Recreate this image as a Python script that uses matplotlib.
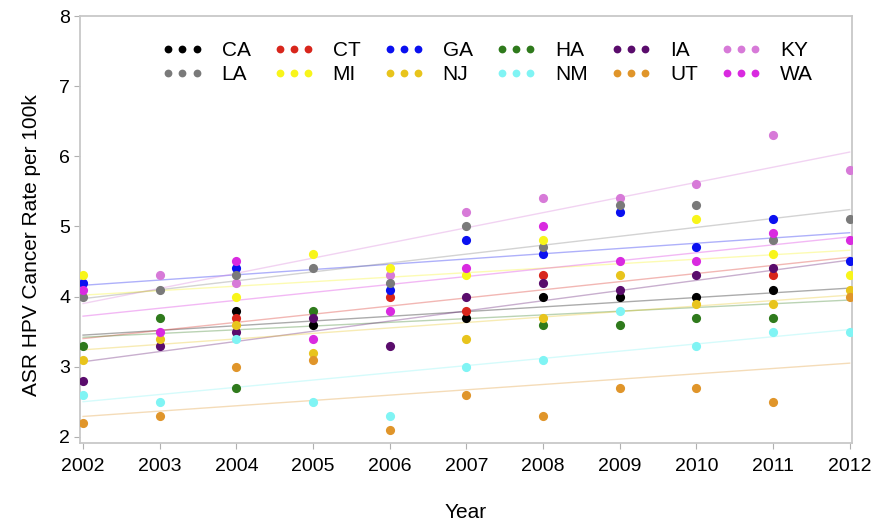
"""Age-standardised HPV cancer rates by state, 2002-2012, with linear trend lines."""
import numpy as np
import matplotlib
matplotlib.use("Agg")
import matplotlib.pyplot as plt
from matplotlib.lines import Line2D

nan = np.nan
years = [2002, 2003, 2004, 2005, 2006, 2007, 2008, 2009, 2010, 2011, 2012]
states = ["CA", "CT", "GA", "HA", "IA", "KY", "LA", "MI", "NJ", "NM", "UT", "WA"]
colors = ["#000000", "#d8261c", "#0a10f0", "#2f7a1c", "#5a0c6c", "#d77ad8",
          "#7a7a7a", "#f8f51a", "#e8c41c", "#80f4f4", "#e0952a", "#d92ae0"]

# rates per 100k (nan = no visible point)
rates = {
    "CA": [nan, nan, 3.8, 3.6, nan, 3.7, 4.0, 4.0, 4.0, 4.1, nan],
    "CT": [nan, nan, 3.7, nan, 4.0, 3.8, 4.3, nan, nan, 4.3, nan],
    "GA": [4.2, nan, 4.4, nan, 4.1, 4.8, 4.6, 5.2, 4.7, 5.1, 4.5],
    "HA": [3.3, 3.7, 2.7, 3.8, nan, nan, 3.6, 3.6, 3.7, 3.7, nan],
    "IA": [2.8, 3.3, 3.5, 3.7, 3.3, 4.0, 4.2, 4.1, 4.3, 4.4, nan],
    "KY": [nan, 4.3, 4.2, nan, 4.3, 5.2, 5.4, 5.4, 5.6, 6.3, 5.8],
    "LA": [4.0, 4.1, 4.3, 4.4, 4.2, 5.0, 4.7, 5.3, 5.3, 4.8, 5.1],
    "MI": [4.3, nan, 4.0, 4.6, 4.4, 4.3, 4.8, nan, 5.1, 4.6, 4.3],
    "NJ": [3.1, 3.4, 3.6, 3.2, nan, 3.4, 3.7, 4.3, 3.9, 3.9, 4.1],
    "NM": [2.6, 2.5, 3.4, 2.5, 2.3, 3.0, 3.1, 3.8, 3.3, 3.5, 3.5],
    "UT": [2.2, 2.3, 3.0, 3.1, 2.1, 2.6, 2.3, 2.7, 2.7, 2.5, 4.0],
    "WA": [4.1, 3.5, 4.5, 3.4, 3.8, 4.4, 5.0, 4.5, 4.5, 4.9, 4.8],
}

# fitted trend line values at 2002 and 2012
fit_2002 = [3.45, 3.40, 4.16, 3.42, 3.07, 3.90, 3.97, 4.02, 3.24, 2.50, 2.29, 3.72]
fit_2012 = [4.12, 4.56, 4.91, 3.95, 4.52, 6.06, 5.24, 4.66, 4.02, 3.53, 3.05, 4.85]

plt.rcParams["font.family"] = ["Liberation Sans", "DejaVu Sans"]

fig = plt.figure(figsize=(8.76, 5.25), dpi=100)
ax = fig.add_axes([0.0913, 0.156, 0.8813, 0.8135])

for i, st in enumerate(states):
    ax.plot([years[0], years[-1]], [fit_2002[i], fit_2012[i]], color=colors[i],
            lw=1.0, alpha=0.33, zorder=2)
for i, st in enumerate(states):
    ax.plot(years, rates[st], ls="none", marker="o", ms=6.6, mec="none",
            color=colors[i], zorder=3)

ax.set_xlim(2001.96, 2012.03)
ax.set_ylim(1.91, 8.0)
ax.set_xticks(years)
ax.set_yticks([2, 3, 4, 5, 6, 7, 8])
ax.tick_params(labelsize=14, length=4, color="#b0b0b0")
ax.tick_params(axis="x", pad=7)
ax.tick_params(axis="y", pad=3)
for sp in ax.spines.values():
    sp.set_color("#c8c8c8")
    sp.set_linewidth(1.3)
ax.set_xlabel("Year", fontsize=15, labelpad=20)
ax.set_ylabel("ASR HPV Cancer Rate per 100k", fontsize=15)
ax.yaxis.set_label_coords(-0.05, 0.464)

# legend laid out row-wise: CA..KY on top, LA..WA below
order = [0, 6, 1, 7, 2, 8, 3, 9, 4, 10, 5, 11]
handles = [Line2D([], [], ls="none", marker="o", ms=5.6, mec="none", color=colors[i])
           for i in order]
ax.legend(handles, [states[i] for i in order], ncol=6, loc="upper center",
          bbox_to_anchor=(0.528, 0.985), frameon=False, numpoints=3,
          handlelength=1.95, handletextpad=0.9, columnspacing=1.1,
          labelspacing=0.25, fontsize=15)

fig.savefig("out.png", dpi=100)
